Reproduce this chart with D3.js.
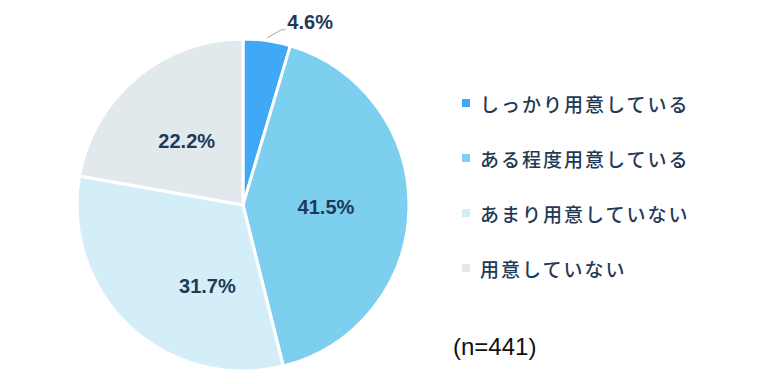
<!DOCTYPE html>
<html><head><meta charset="utf-8">
<script src="https://cdn.jsdelivr.net/npm/d3@7"></script>
<style>
html,body{margin:0;padding:0;background:#fff;}
svg{display:block;}
</style>
</head><body>
<svg id="chart" width="768" height="384"></svg>
<script>
const categories = ["しっかり用意している", "ある程度用意している", "あまり用意していない", "用意していない"];
const values = [4.6, 41.5, 31.7, 22.2];
const colors = ["#3fa9f5", "#7dcfef", "#d4eef9", "#e1e9ed"];
const sampleNote = "(n=441)";

const svg = d3.select("#chart");
const cx = 243, cy = 205, R = 166;
const textColor = "#1f3a56";

const pie = d3.pie().sort(null).value(d => d)(values);
const arc = d3.arc().innerRadius(0).outerRadius(R);
const g = svg.append("g").attr("transform", `translate(${cx},${cy})`);

g.selectAll("path.slice").data(pie).join("path")
  .attr("class", "slice")
  .attr("d", arc)
  .attr("fill", (d, i) => colors[i])
  .attr("stroke", "#fff")
  .attr("stroke-width", 3)
  .attr("stroke-linejoin", "round");

// labels
const labelFont = "'Liberation Sans', Arial, sans-serif";
const inner = d3.arc().innerRadius(R * 0.5).outerRadius(R * 0.5);
// angle/radius tweaks mimicking the reference's best-fit label placement
const labelShift = [null, [0, 0], [21, 20], [-3, 0]];
pie.forEach((d, i) => {
  const txt = d3.format(".1f")(values[i]) + "%";
  if (i === 0) {
    const a = (d.startAngle + d.endAngle) / 2;
    const p0 = [Math.sin(a) * (R + 3), -Math.cos(a) * (R + 3)];
    const p1 = [p0[0] + 14, p0[1] - 8];
    g.append("polyline")
      .attr("points", [p0, p1, [p1[0] + 4, p1[1]]].map(p => p.join(",")).join(" "))
      .attr("fill", "none").attr("stroke", "#a6a6a6").attr("stroke-width", 1);
    g.append("text")
      .attr("x", p1[0] + 6).attr("y", p1[1] - 8)
      .attr("dominant-baseline", "central")
      .attr("font-family", labelFont).attr("font-weight", "bold").attr("font-size", 20)
      .attr("fill", textColor).text(txt);
  } else {
    const c = inner.centroid(d);
    g.append("text")
      .attr("x", c[0] + labelShift[i][0]).attr("y", c[1] + labelShift[i][1])
      .attr("text-anchor", "middle").attr("dominant-baseline", "central")
      .attr("font-family", labelFont).attr("font-weight", "bold").attr("font-size", 20)
      .attr("fill", textColor).text(txt);
  }
});

// legend
const legendY = d3.scalePoint().domain(categories).range([103, 268]);
const lg = svg.append("g");
categories.forEach((c, i) => {
  lg.append("rect")
    .attr("x", 462).attr("y", legendY(c) - 4).attr("width", 8).attr("height", 8)
    .attr("fill", colors[i]);
  lg.append("text")
    .attr("x", 480).attr("y", legendY(c))
    .attr("dominant-baseline", "central")
    .attr("font-family", "'Noto Sans CJK JP', sans-serif")
    .attr("font-size", 19).attr("letter-spacing", 2).attr("font-weight", 500)
    .attr("fill", textColor).text(c);
});

svg.append("text")
  .attr("x", 453).attr("y", 346)
  .attr("dominant-baseline", "central")
  .attr("font-family", labelFont).attr("font-size", 24)
  .attr("fill", "#111").text(sampleNote);
</script>
</body></html>
